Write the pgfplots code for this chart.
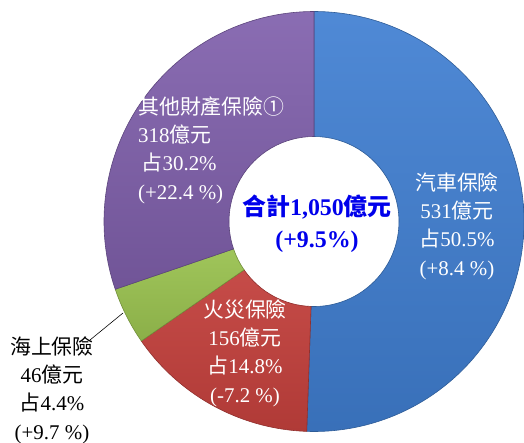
\documentclass[border=0pt]{standalone}
\usepackage{pgfplots}
\pgfplotsset{compat=1.18}
\usepackage{pgfplotstable}
\usetikzlibrary{calc}
\usepackage{fontspec}
\setmainfont{Liberation Serif}
\newfontfamily\cjk{Noto Sans CJK TC}

\definecolor{cCar}{RGB}{64,127,210}
\definecolor{cFire}{RGB}{200,66,62}
\definecolor{cMarine}{RGB}{158,199,82}
\definecolor{cOther}{RGB}{128,96,172}
\definecolor{cTotal}{RGB}{0,0,235}

\pgfplotstableread{
name amount pct
car 531 50.5
fire 156 14.8
marine 46 4.4
other 318 30.2
}\shares

\pgfplotstablegetelem{0}{pct}\of\shares \edef\pA{\pgfplotsretval}
\pgfplotstablegetelem{1}{pct}\of\shares \edef\pB{\pgfplotsretval}
\pgfplotstablegetelem{2}{pct}\of\shares \edef\pC{\pgfplotsretval}
\pgfplotstablegetelem{3}{pct}\of\shares \edef\pD{\pgfplotsretval}
\pgfmathsetmacro\tot{\pA+\pB+\pC+\pD}
\pgfmathsetmacro\aA{90}
\pgfmathsetmacro\aB{\aA-360*(\pA/\tot)}
\pgfmathsetmacro\aC{\aB-360*(\pB/\tot)}
\pgfmathsetmacro\aD{\aC-360*(\pC/\tot)}
\pgfmathsetmacro\aE{\aD-360*(\pD/\tot)}

\newcommand\cx{314}
\newcommand\cy{221.5}
\newcommand\Rout{210bp}
\newcommand\Rin{85bp}
\newcommand\donutwedge[3]{%
  \shade[top color=#1!92!white,bottom color=#1!88!black] (axis cs:\cx,\cy) ++(#2:\Rout) arc[start angle=#2,end angle=#3,radius=\Rout]
    -- ($(axis cs:\cx,\cy)+(#3:\Rin)$) arc[start angle=#3,end angle=#2,radius=\Rin] -- cycle;
  \draw[#1!72!black,line width=0.6pt] (axis cs:\cx,\cy) ++(#2:\Rout) arc[start angle=#2,end angle=#3,radius=\Rout]
    -- ($(axis cs:\cx,\cy)+(#3:\Rin)$) arc[start angle=#3,end angle=#2,radius=\Rin] -- cycle;
}

\begin{document}%
\begin{tikzpicture}
\begin{axis}[x=1bp,y=1bp,anchor=origin,at={(0,0)},disabledatascaling,
  xmin=0,xmax=524,ymin=0,ymax=443,enlargelimits=false,
  hide axis,xtick=\empty,ytick=\empty,clip=false]
\addplot[draw=none,mark=none,forget plot] coordinates {(0,0) (524,443)};
\donutwedge{cCar}{\aA}{\aB}
\donutwedge{cFire}{\aB}{\aC}
\donutwedge{cMarine}{\aC}{\aD}
\donutwedge{cOther}{\aD}{\aE}
\draw[black,line width=0.6pt] (axis cs:90,103) -- (axis cs:123,130);
\node[align=center,text=white,inner sep=0pt,font=\fontsize{21}{28.5}\selectfont]
  at (axis cs:457,217) {{\cjk 汽車保險}\\531{\cjk 億元}\\{\cjk 占}50.5\%\\(+8.4 \%)};
\node[align=center,text=white,inner sep=0pt,font=\fontsize{21}{28.5}\selectfont]
  at (axis cs:245,90) {{\cjk 火災保險}\\156{\cjk 億元}\\{\cjk 占}14.8\%\\(-7.2 \%)};
\node[align=left,anchor=west,text=white,inner sep=0pt,font=\fontsize{21}{28.5}\selectfont]
  at (axis cs:138,293) {{\cjk 其他財產保險①}\\318{\cjk 億元}\\\,{\cjk 占}30.2\%\\(+22.4 \%)};
\node[align=center,text=black,inner sep=0pt,font=\fontsize{21}{28.5}\selectfont]
  at (axis cs:52,53) {{\cjk 海上保險}\\46{\cjk 億元}\\{\cjk 占}4.4\%\\(+9.7 \%)};
\node[align=center,text=cTotal,inner sep=0pt,font=\bfseries\fontsize{24}{32}\selectfont]
  at (axis cs:317,219) {{\cjk 合計}1,050{\cjk 億元}\\(+9.5\%)};
\end{axis}
\pgfresetboundingbox
\useasboundingbox (0,0) rectangle (524bp,443bp);
\end{tikzpicture}%
\end{document}
